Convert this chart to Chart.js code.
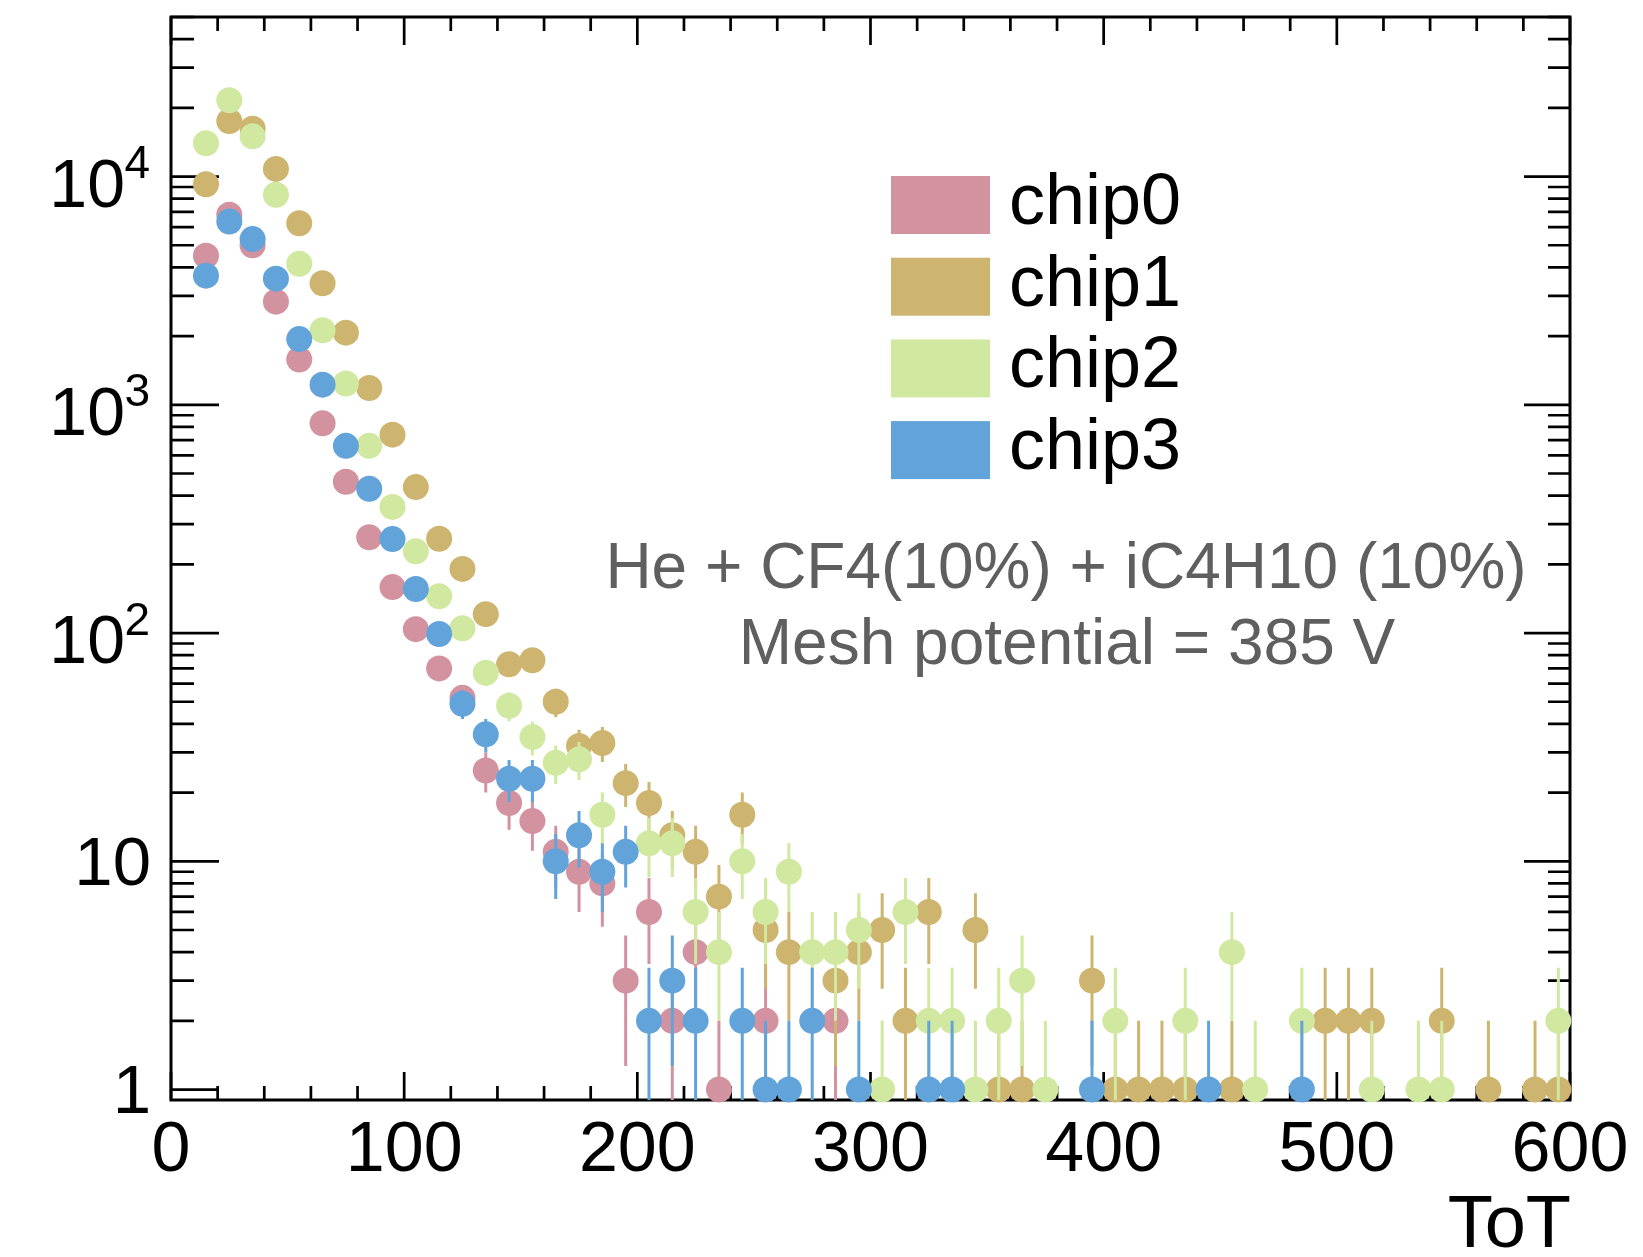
<!DOCTYPE html>
<html>
<head>
<meta charset="utf-8">
<title>ToT</title>
<script src="https://cdn.jsdelivr.net/npm/chart.js@4.4.1/dist/chart.umd.min.js"></script>
<style>
  html, body { margin: 0; padding: 0; background: #fff; }
  #wrap { width: 1643px; height: 1257px; }
</style>
</head>
<body>
<div id="wrap"><canvas id="grafico" width="1643" height="1257"></canvas></div>
<script>
// centros de bin de ToT (ancho 10)
const binCenters = [15, 25, 35, 45, 55, 65, 75, 85, 95, 105,
  115, 125, 135, 145, 155, 165, 175, 185, 195, 205,
  215, 225, 235, 245, 255, 265, 275, 285, 295, 305,
  315, 325, 335, 345, 355, 365, 375, 385, 395, 405,
  415, 425, 435, 445, 455, 465, 475, 485, 495, 505,
  515, 525, 535, 545, 555, 565, 575, 585, 595];

// cuentas por bin (null = bin vacio)
const chip0 = [4500, 6800, 5000, 2830, 1580, 830, 460, 263, 159, 104,
  70, 52, 25, 18, 15, 11, 9, 8, 3, 6,
  2, 4, 1, null, 2, null, null, 2, null, null,
  null, null, null, null, null, null, null, null, null, null,
  null, null, null, null, null, null, null, null, null, null,
  null, null, null, null, null, null, null, null, null];
const chip1 = [9250, 17500, 16200, 10800, 6240, 3410, 2070, 1185, 740, 436,
  259, 191, 121, 73, 76, 50, 32, 33, 22, 18,
  13, 11, 7, 16, 5, 4, null, 3, 4, 5,
  2, 6, null, 5, 1, 1, null, null, 3, 1,
  1, 1, 1, null, 1, null, null, null, 2, 2,
  2, null, null, 2, null, 1, null, 1, 1];
const chip2 = [14000, 21600, 15000, 8320, 4150, 2120, 1240, 661, 357, 228,
  145, 105, 67, 48, 35, 27, 28, 16, null, 12,
  12, 6, 4, 10, 6, 9, 4, 4, 5, 1,
  6, 2, 2, 1, 2, 3, 1, null, null, 2,
  null, null, 2, null, 4, 1, null, 2, null, null,
  1, null, 1, 1, null, null, null, null, 2];
const chip3 = [3680, 6350, 5320, 3570, 1940, 1225, 661, 429, 258, 156,
  99, 49, 36, 23, 23, 10, 13, 9, 11, 2,
  3, 2, null, 2, 1, 1, 2, null, 1, null,
  null, 1, 1, null, null, null, null, null, 1, null,
  null, null, null, 1, null, null, null, 1, null, null,
  null, null, null, null, null, null, null, null, null];

const chipLabels = ['chip0', 'chip1', 'chip2', 'chip3'];
const chipColors = ['#d2929f', '#cdb46f', '#d1e8a0', '#62a3da'];

const xTickValues = [0, 100, 200, 300, 400, 500, 600];
const xTickLabels = ['0', '100', '200', '300', '400', '500', '600'];
const yTickValues = [1, 10, 100, 1000, 10000];
const yTickBase = ['1', '10', '10', '10', '10'];
const yTickExp = ['', '', '2', '3', '4'];
const infoLines = ['He + CF4(10%) + iC4H10 (10%)', 'Mesh potential = 385 V'];
const xTitle = 'ToT';

const FONT = '"Liberation Sans", Arial, Helvetica, sans-serif';
const series = [chip0, chip1, chip2, chip3];

// dibuja marco y ticks estilo ROOT (hacia adentro, en los cuatro lados)
function dibujarEjes(chart) {
  const { ctx, chartArea: a, scales: { x, y } } = chart;
  ctx.save();
  ctx.strokeStyle = '#000';
  ctx.lineWidth = 2.7;
  ctx.beginPath();
  for (let v = 0; v <= 600; v += 20) {
    const px = x.getPixelForValue(v);
    const len = v % 100 === 0 ? 28 : 14;
    ctx.moveTo(px, a.bottom); ctx.lineTo(px, a.bottom - len);
    ctx.moveTo(px, a.top); ctx.lineTo(px, a.top + len);
  }
  yTickValues.forEach(d => {
    for (let m = 1; m <= 9; m++) {
      const v = m * d;
      if (v > y.max) break;
      const py = y.getPixelForValue(v);
      const major = m === 1;
      ctx.moveTo(a.left, py); ctx.lineTo(a.left + (major ? 48 : 23), py);
      ctx.moveTo(a.right, py); ctx.lineTo(a.right - (major ? 46 : 22), py);
    }
  });
  ctx.stroke();
  ctx.lineWidth = 3;
  ctx.strokeRect(a.left, a.top, a.right - a.left, a.bottom - a.top);
  ctx.restore();
}

// barras de error poissonianas, antes de los marcadores de cada serie
function dibujarErrores(chart, index) {
  const { ctx, chartArea: a, scales: { x, y } } = chart;
  const datos = series[index];
  ctx.save();
  ctx.beginPath();
  ctx.rect(a.left, a.top, a.right - a.left, a.bottom - a.top);
  ctx.clip();
  ctx.strokeStyle = chipColors[index];
  ctx.lineWidth = 3;
  ctx.beginPath();
  datos.forEach((n, i) => {
    if (n === null) return;
    const err = Math.sqrt(n);
    const px = x.getPixelForValue(binCenters[i]);
    const top = y.getPixelForValue(n + err);
    const bot = n - err > 0 ? y.getPixelForValue(n - err) : a.bottom + 5;
    ctx.moveTo(px, Math.min(bot, a.bottom + 5));
    ctx.lineTo(px, top);
  });
  ctx.stroke();
  ctx.restore();
}

function dibujarTextos(chart) {
  const { ctx, chartArea: a, scales: { x, y } } = chart;
  ctx.save();
  ctx.fillStyle = '#000';
  ctx.textBaseline = 'alphabetic';

  // etiquetas eje x
  ctx.font = `70px ${FONT}`;
  ctx.textAlign = 'center';
  xTickValues.forEach((v, i) => {
    ctx.fillText(xTickLabels[i], x.getPixelForValue(v), 1171);
  });

  // etiquetas eje y con superindice
  yTickValues.forEach((v, i) => {
    const py = y.getPixelForValue(v);
    if (yTickExp[i] === '') {
      ctx.font = `69px ${FONT}`;
      ctx.textAlign = 'right';
      ctx.fillText(yTickBase[i], 151, py + 23.5);
    } else {
      ctx.font = `68px ${FONT}`;
      ctx.textAlign = 'right';
      ctx.fillText(yTickBase[i], 125, py + 30);
      ctx.font = `46px ${FONT}`;
      ctx.textAlign = 'left';
      ctx.fillText(yTickExp[i], 124.5, py + 1.5);
    }
  });

  // titulo eje x
  ctx.font = `74px ${FONT}`;
  ctx.textAlign = 'right';
  ctx.fillText(xTitle, a.right + 1, 1247);

  // leyenda
  chipLabels.forEach((label, i) => {
    const top = 176 + i * 81.7;
    ctx.fillStyle = chipColors[i];
    ctx.fillRect(891, top, 99, 58);
    ctx.fillStyle = '#000';
    ctx.font = `72px ${FONT}`;
    ctx.textAlign = 'left';
    ctx.fillText(label, 1009, top + 48);
  });

  // texto informativo
  ctx.fillStyle = '#5f5f5f';
  ctx.font = `64px ${FONT}`;
  ctx.textAlign = 'center';
  ctx.fillText(infoLines[0], 1066, 588);
  ctx.fillText(infoLines[1], 1067, 664);
  ctx.restore();
}

const estiloRoot = {
  id: 'estiloRoot',
  beforeDatasetsDraw(chart) { dibujarEjes(chart); },
  beforeDatasetDraw(chart, args) { dibujarErrores(chart, args.index); },
  afterDraw(chart) { dibujarTextos(chart); }
};

const ctx = document.getElementById('grafico').getContext('2d');
new Chart(ctx, {
  type: 'scatter',
  data: {
    datasets: series.map((datos, i) => ({
      label: chipLabels[i],
      data: binCenters.map((c, j) => ({ x: c, y: datos[j] })),
      backgroundColor: chipColors[i],
      borderColor: chipColors[i],
      pointRadius: 13,
      pointHoverRadius: 13,
      pointBorderWidth: 0,
      showLine: false,
      clip: false,
      order: 4 - i
    }))
  },
  options: {
    responsive: false,
    animation: false,
    devicePixelRatio: 1,
    events: [],
    layout: { padding: { top: 17, right: 73, left: 0, bottom: 0 } },
    plugins: { legend: { display: false }, tooltip: { enabled: false } },
    scales: {
      x: {
        type: 'linear', min: 0, max: 600,
        grid: { display: false }, border: { display: false },
        ticks: { display: false },
        afterFit(s) { s.height = 157; }
      },
      y: {
        type: 'logarithmic', min: 0.9, max: 50000,
        grid: { display: false }, border: { display: false },
        ticks: { display: false },
        afterFit(s) { s.width = 171; }
      }
    }
  },
  plugins: [estiloRoot]
});
</script>
</body>
</html>
